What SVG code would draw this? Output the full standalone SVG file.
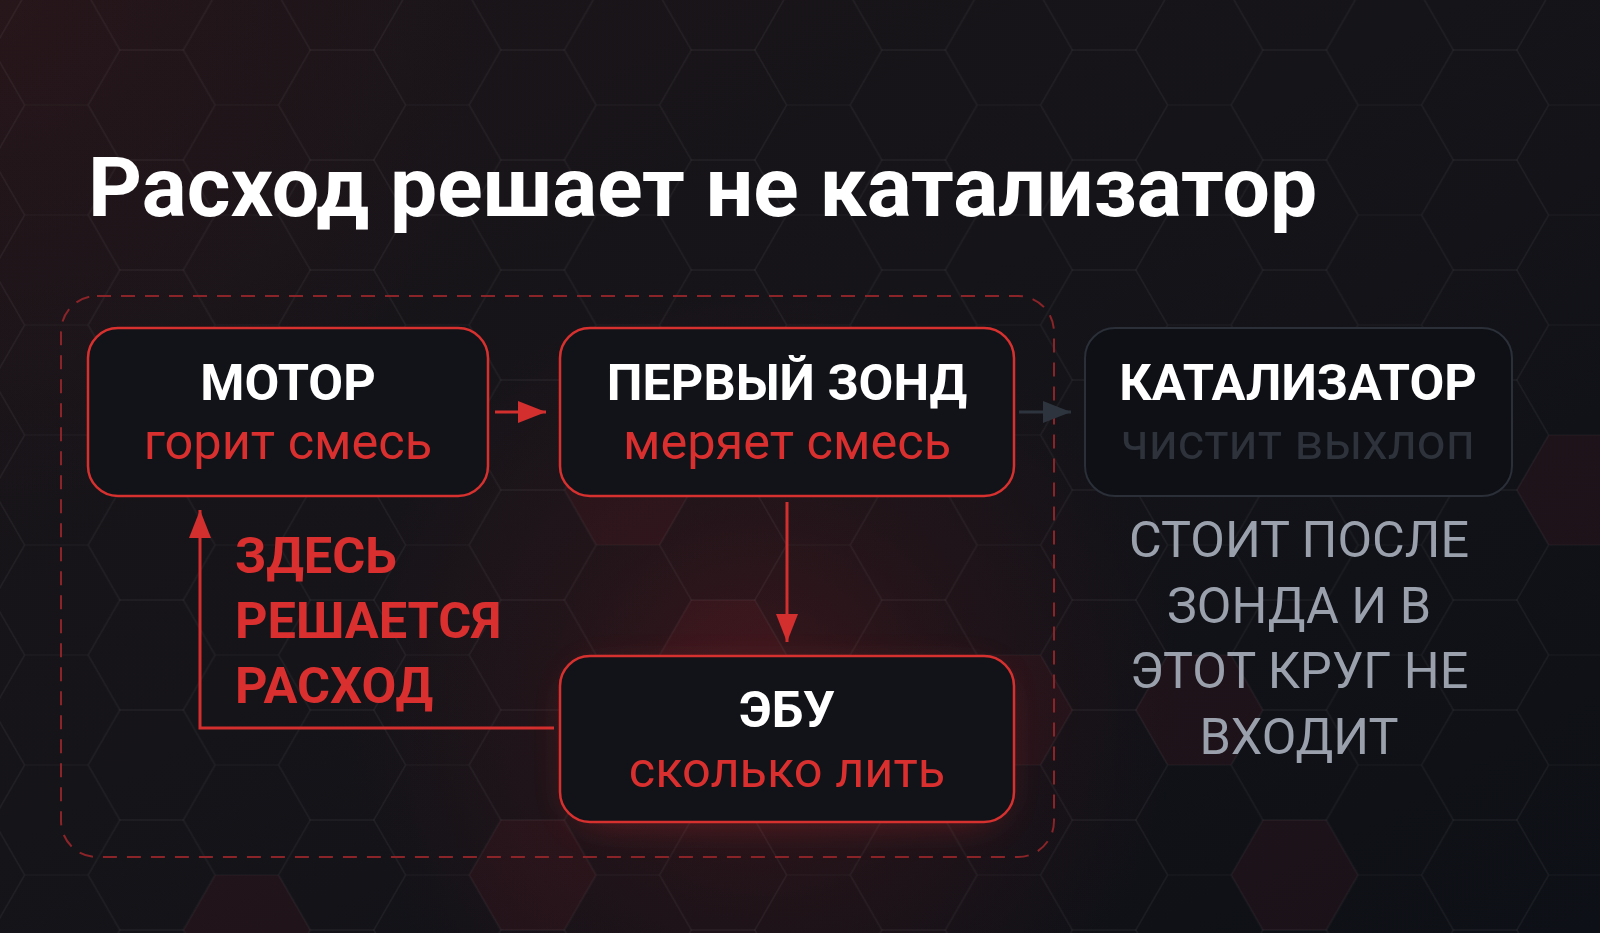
<svg xmlns="http://www.w3.org/2000/svg" width="1600" height="933" viewBox="0 0 1600 933">
  <defs>
    <linearGradient id="bg" x1="0" y1="0" x2="1" y2="1">
      <stop offset="0" stop-color="#1c1519"/>
      <stop offset="0.45" stop-color="#151419"/>
      <stop offset="1" stop-color="#0d1016"/>
    </linearGradient>
    <radialGradient id="glow" cx="760" cy="700" r="420" gradientUnits="userSpaceOnUse">
      <stop offset="0" stop-color="#c0262c" stop-opacity="0.22"/>
      <stop offset="0.5" stop-color="#a01e24" stop-opacity="0.1"/>
      <stop offset="1" stop-color="#a01e24" stop-opacity="0"/>
    </radialGradient>
    <radialGradient id="tl" cx="0" cy="0" r="500" gradientUnits="userSpaceOnUse">
      <stop offset="0" stop-color="#5a1a20" stop-opacity="0.18"/>
      <stop offset="1" stop-color="#5a1a20" stop-opacity="0"/>
    </radialGradient>
    <path id="hex" d="M-63.5 0 L-31.75 -55 L31.75 -55 L63.5 0 L31.75 55 L-31.75 55 Z"/>
    <pattern id="hexpat" patternUnits="userSpaceOnUse" x="1294.6" y="875" width="190.5" height="110">
      <g fill="none" stroke="#ffffff" stroke-opacity="0.022" stroke-width="1.5">
        <use href="#hex" x="0" y="0"/>
        <use href="#hex" x="190.5" y="0"/>
        <use href="#hex" x="0" y="110"/>
        <use href="#hex" x="190.5" y="110"/>
        <use href="#hex" x="95.25" y="55"/>
      </g>
    </pattern>
    <filter id="shadow" x="-30%" y="-40%" width="160%" height="180%">
      <feGaussianBlur stdDeviation="18"/>
    </filter>
    <marker id="ar" viewBox="0 0 28 22" refX="28" refY="11" markerWidth="28" markerHeight="22" markerUnits="userSpaceOnUse" orient="auto">
      <path d="M0 0 L28 11 L0 22 Z" fill="#d32f2f"/>
    </marker>
    <marker id="ag" viewBox="0 0 28 22" refX="28" refY="11" markerWidth="28" markerHeight="22" markerUnits="userSpaceOnUse" orient="auto">
      <path d="M0 0 L28 11 L0 22 Z" fill="#2e343e"/>
    </marker>
    <style>
      .box { fill: #111318; stroke: #d7312f; stroke-width: 2.5; }
      .boxg { fill: #0e1015; stroke: #2a2f38; stroke-width: 2; }
      .h { font-family: Roboto, "Liberation Sans", sans-serif; font-weight: 700; font-size: 50.5px; fill: #ffffff; text-anchor: middle; }
      .s { font-family: Roboto, "Liberation Sans", sans-serif; font-weight: 400; font-size: 50.5px; fill: #d9302f; text-anchor: middle; }
      .sg { fill: #2d323b; }
      .lbl { font-family: Roboto, "Liberation Sans", sans-serif; font-weight: 700; font-size: 50.5px; fill: #d9302f; }
      .note { font-family: Roboto, "Liberation Sans", sans-serif; font-weight: 400; font-size: 50.3px; fill: #9aa1ac; text-anchor: middle; }
      .ln { fill: none; stroke: #d32f2f; stroke-width: 3; }
    </style>
  </defs>

  <rect width="1600" height="933" fill="url(#bg)"/>
  <rect width="1600" height="933" fill="url(#tl)"/>
  <g fill="#c0282d" fill-opacity="0.08">
    <use href="#hex" x="628" y="490"/>
    <use href="#hex" x="723" y="655"/>
    <use href="#hex" x="1009" y="710"/>
    <use href="#hex" x="1199.4" y="710"/>
    <use href="#hex" x="1294.6" y="875"/>
    <use href="#hex" x="1580.4" y="490"/>
    <use href="#hex" x="532.6" y="875"/>
    <use href="#hex" x="246.9" y="930"/>
  </g>
  <rect width="1600" height="933" fill="url(#glow)"/>
  <rect width="1600" height="933" fill="url(#hexpat)"/>

  <text x="88" y="216" font-family="Roboto, 'Liberation Sans', sans-serif" font-weight="700" font-size="84" fill="#ffffff">Расход решает не катализатор</text>

  <rect id="loop" x="61" y="296" width="993" height="561" rx="36" fill="none" stroke="#8a2428" stroke-width="2" stroke-dasharray="14 10"/>

  <g id="connectors">
    <line class="ln" x1="495" y1="412" x2="546" y2="412" marker-end="url(#ar)"/>
    <line x1="1019" y1="412" x2="1071" y2="412" stroke="#2e343e" stroke-width="3" marker-end="url(#ag)"/>
    <line class="ln" x1="787" y1="502" x2="787" y2="642" marker-end="url(#ar)"/>
    <polyline class="ln" points="554,728 200,728 200,510" marker-end="url(#ar)"/>
  </g>

  <g id="motor">
    <rect class="box" x="88" y="328" width="400" height="168" rx="30"/>
    <text class="h" x="288" y="400">МОТОР</text>
    <text class="s" x="288" y="459">горит смесь</text>
  </g>
  <g id="zond">
    <rect class="box" x="560" y="328" width="454" height="168" rx="30"/>
    <text class="h" x="787" y="400">ПЕРВЫЙ ЗОНД</text>
    <text class="s" x="787" y="459">меряет смесь</text>
  </g>
  <g id="catalyst">
    <rect class="boxg" x="1085" y="328" width="427" height="168" rx="30"/>
    <text class="h" x="1298" y="400">КАТАЛИЗАТОР</text>
    <text class="s sg" x="1298" y="459">чистит выхлоп</text>
  </g>
  <g id="ecu">
    <rect x="572" y="672" width="430" height="150" rx="30" fill="#d32f2f" opacity="0.35" filter="url(#shadow)"/>
    <rect class="box" x="560" y="656" width="454" height="166" rx="30"/>
    <text class="h" x="787" y="727">ЭБУ</text>
    <text class="s" x="787" y="787">сколько лить</text>
  </g>

  <g id="label">
    <text class="lbl" x="235" y="573">ЗДЕСЬ</text>
    <text class="lbl" x="235" y="638">РЕШАЕТСЯ</text>
    <text class="lbl" x="235" y="703">РАСХОД</text>
  </g>

  <g id="note">
    <text class="note" x="1299" y="557">СТОИТ ПОСЛЕ</text>
    <text class="note" x="1299" y="623">ЗОНДА И В</text>
    <text class="note" x="1299" y="688">ЭТОТ КРУГ НЕ</text>
    <text class="note" x="1299" y="754">ВХОДИТ</text>
  </g>
</svg>
